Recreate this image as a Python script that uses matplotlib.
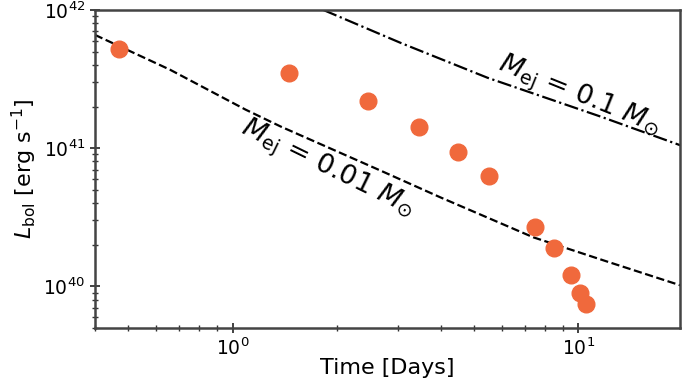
import matplotlib.pyplot as plt

# observed bolometric light curve
t_obs = [0.47, 1.46, 2.46, 3.47, 4.5, 5.5, 7.5, 8.5, 9.5, 10.1, 10.5]
L_obs = [5.2e41, 3.5e41, 2.2e41, 1.43e41, 9.4e40, 6.3e40, 2.7e40, 1.88e40, 1.2e40, 8.9e39, 7.5e39]

# model curves
t_m001 = [0.40, 0.66, 1.09, 1.38, 2.68, 3.99, 7.41, 12.1, 20.1]
L_m001 = [6.6e41, 3.69e41, 1.90e41, 1.43e41, 6.87e40, 4.40e40, 2.26e40, 1.51e40, 1.0e40]

t_m01 = [1.83, 3.06, 5.46, 11.6, 20.1]
L_m01 = [1.0e42, 5.78e41, 3.23e41, 1.69e41, 1.03e41]

fig = plt.figure(figsize=(6.83, 3.83), dpi=100)
ax = fig.add_axes([0.139, 0.144, 0.857, 0.830])

ax.plot(t_m001, L_m001, ls='--', color='black', lw=1.6)
ax.plot(t_m01, L_m01, ls='-.', color='black', lw=1.6)
ax.plot(t_obs, L_obs, 'o', color='#F0693C', markersize=12, zorder=3)

ax.set_xscale('log')
ax.set_yscale('log')
ax.set_xlim(0.40, 19.7)
ax.set_ylim(5e39, 1e42)

ax.text(1.88, 7.0e40, r'$M_{\rm ej}$ = 0.01 $M_{\odot}$', fontsize=19.5,
        rotation=-26, ha='center', va='center', rotation_mode='anchor')
ax.text(10.05, 2.36e41, r'$M_{\rm ej}$ = 0.1 $M_{\odot}$', fontsize=19.5,
        rotation=-22, ha='center', va='center', rotation_mode='anchor')

ax.set_xlabel('Time [Days]', fontsize=16, labelpad=-1)
ax.set_ylabel(r'$L_{\rm bol}$ [erg s$^{-1}$]', fontsize=16, labelpad=3)
ax.tick_params(which='both', direction='inout', labelsize=13.5, color='#333333')
ax.tick_params(which='major', length=7, width=1.3)
ax.tick_params(which='minor', length=4, width=1.0)
for s in ax.spines.values():
    s.set_linewidth(1.8)
    s.set_color('#444444')

fig.savefig('out.png', dpi=100)
